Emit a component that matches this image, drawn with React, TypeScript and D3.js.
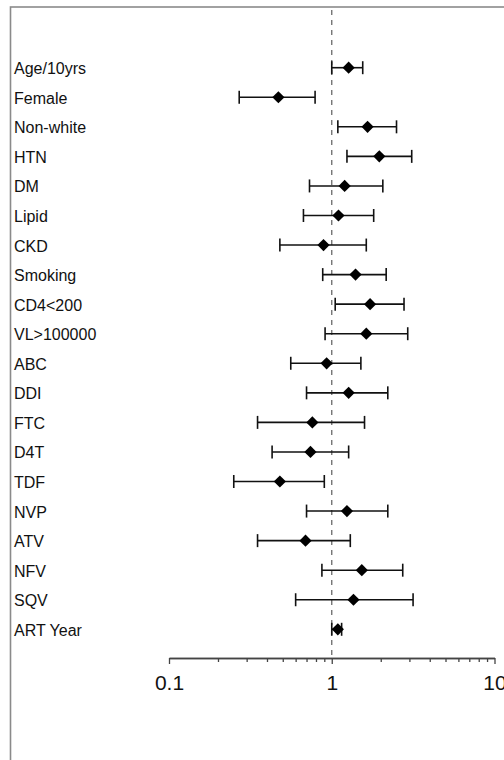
import React, { useRef, useEffect } from "react";
import * as d3 from "d3";

const categories = [
  "Age/10yrs", "Female", "Non-white", "HTN", "DM", "Lipid", "CKD", "Smoking",
  "CD4<200", "VL>100000", "ABC", "DDI", "FTC", "D4T", "TDF", "NVP", "ATV",
  "NFV", "SQV", "ART Year",
];
const estimates = [
  1.27, 0.47, 1.66, 1.96, 1.2, 1.1, 0.89, 1.4, 1.72, 1.63, 0.93, 1.27, 0.76,
  0.74, 0.48, 1.24, 0.69, 1.53, 1.36, 1.09,
];
const lowerCI = [
  1.0, 0.27, 1.09, 1.24, 0.73, 0.67, 0.48, 0.88, 1.05, 0.91, 0.56, 0.7, 0.35,
  0.43, 0.25, 0.7, 0.35, 0.87, 0.6, 1.0,
];
const upperCI = [
  1.55, 0.79, 2.5, 3.1, 2.06, 1.81, 1.63, 2.16, 2.78, 2.93, 1.51, 2.21, 1.59,
  1.27, 0.9, 2.21, 1.3, 2.73, 3.16, 1.15,
];
const majorTicks = [0.1, 1, 10];
const minorTicks = [0.2, 0.3, 0.4, 0.5, 0.6, 0.7, 0.8, 0.9, 2, 3, 4, 5, 6, 7, 8, 9];

const W = 504;
const H = 760;

function ForestPlot() {
  const svgRef = useRef<SVGSVGElement>(null);

  useEffect(() => {
    const svg = d3.select(svgRef.current);
    svg.selectAll("*").remove();

    const x = d3.scaleLog().domain([0.1, 10]).range([169, 494.5]);
    const y = d3.scalePoint<string>().domain(categories).range([67.7, 629.3]);
    const axisY = 658;

    // frame (runs off the right and bottom edge)
    svg.append("rect")
      .attr("x", 10.5).attr("y", 7)
      .attr("width", 600).attr("height", 800)
      .attr("fill", "none")
      .attr("stroke", "#8a8a8a")
      .attr("stroke-width", 1.6);

    // reference line at 1
    svg.append("line")
      .attr("x1", x(1)).attr("x2", x(1))
      .attr("y1", 10).attr("y2", axisY)
      .attr("stroke", "#6a6a6a")
      .attr("stroke-width", 1.3)
      .attr("stroke-dasharray", "5,5");

    // axes
    const minor = svg.append("g")
      .attr("transform", `translate(0,${axisY})`)
      .call(d3.axisBottom(x).tickValues(minorTicks).tickSize(4).tickSizeOuter(0).tickFormat(() => ""));
    const major = svg.append("g")
      .attr("transform", `translate(0,${axisY})`)
      .call(d3.axisBottom(x).tickValues(majorTicks).tickSize(6).tickSizeOuter(0).tickPadding(11)
        .tickFormat(d => String(d)));
    [minor, major].forEach(g => {
      g.selectAll("path,line").attr("stroke", "#444").attr("stroke-width", 1.3);
    });
    major.selectAll("text")
      .attr("font-family", "Liberation Sans, Arial, sans-serif")
      .attr("font-size", 21)
      .attr("fill", "#111");

    // labels
    svg.append("g").selectAll("text")
      .data(categories)
      .join("text")
      .attr("x", 14)
      .attr("y", d => (y(d) as number) + 1)
      .attr("dominant-baseline", "central")
      .attr("font-family", "Liberation Sans, Arial, sans-serif")
      .attr("font-size", 16)
      .attr("fill", "#111")
      .text(d => d);

    // CI bars
    const rows = categories.map((c, i) => ({ c, est: estimates[i], lo: lowerCI[i], hi: upperCI[i] }));
    const g = svg.append("g").attr("stroke", "#111").attr("stroke-width", 1.6);
    g.selectAll(".ci")
      .data(rows)
      .join("line")
      .attr("class", "ci")
      .attr("x1", d => x(d.lo)).attr("x2", d => x(d.hi))
      .attr("y1", d => y(d.c) as number).attr("y2", d => y(d.c) as number);
    g.selectAll(".capl")
      .data(rows)
      .join("line")
      .attr("class", "capl")
      .attr("x1", d => x(d.lo)).attr("x2", d => x(d.lo))
      .attr("y1", d => (y(d.c) as number) - 6.5).attr("y2", d => (y(d.c) as number) + 6.5);
    g.selectAll(".caph")
      .data(rows)
      .join("line")
      .attr("class", "caph")
      .attr("x1", d => x(d.hi)).attr("x2", d => x(d.hi))
      .attr("y1", d => (y(d.c) as number) - 6.5).attr("y2", d => (y(d.c) as number) + 6.5);

    // diamonds
    const diamond = d3.symbol().type(d3.symbolDiamond2).size(95);
    svg.append("g").selectAll("path")
      .data(rows)
      .join("path")
      .attr("d", diamond)
      .attr("transform", d => `translate(${x(d.est)},${y(d.c)})`)
      .attr("fill", "#000");
  }, []);

  return (
    <svg
      ref={svgRef}
      width={W}
      height={H}
      style={{ position: "absolute", left: 0, top: 0, background: "#fff" }}
    />
  );
}

export default function App() {
  return <ForestPlot />;
}
